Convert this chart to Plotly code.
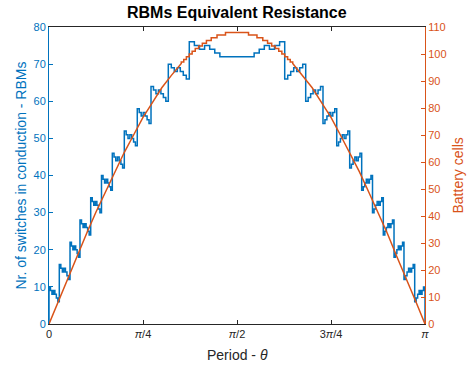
import numpy as np
import plotly.graph_objects as go

# ---------------- data ----------------
# x positions are given as fractions of pi
# Blue: switches in conduction (left half; right half is its mirror image)
blue_seg_start = [0.0, 0.0274, 0.0559, 0.0824, 0.1109, 0.1396, 0.1684,
                  0.2003, 0.2348, 0.2713, 0.3173, 0.3731]
blue_seg_high = [10, 16, 22, 28, 34, 40, 46, 52, 58, 64, 70, 76]
blue_last_end = 0.468          # end of the last descending segment
blue_center_level = 72         # flat level around pi/2
blue_wiggle = [0, 1, 2, 1, 2, 3, 4]   # drop below segment high in each sub-step

# Orange: battery cells (left half; right half mirrored)
orange_slope_theta = [0, 0.025, 0.05, 0.075, 0.10, 0.125, 0.15, 0.175, 0.20,
                      0.225, 0.25, 0.275, 0.30, 0.325, 0.3518]
orange_slope_cells = [0, 8.5, 17, 25, 33.5, 41.5, 49, 56.5, 63.5, 70, 76.5,
                      82, 87.5, 92, 96.5]
orange_step_theta = [0.3518, 0.3584, 0.3654, 0.3730, 0.3807, 0.3890, 0.3980,
                     0.4078, 0.4187, 0.4314, 0.4469, 0.4694]
orange_step_cells = [97, 98, 99, 100, 101, 102, 103, 104, 105, 106, 107, 108]

x_tick_vals = [0, 0.25, 0.5, 0.75, 1.0]
x_tick_text = ["0", "<i>π</i>/4", "<i>π</i>/2", "3<i>π</i>/4", "<i>π</i>"]

BLUE = "#0072BD"
ORANGE = "#D95319"
DARK = "#262626"
FONT = "Liberation Sans, Arial, sans-serif"

# ---------------- build blue staircase ----------------
intervals = []  # (x0, x1, y)
ends = blue_seg_start[1:] + [blue_last_end]
for s, e, h in zip(blue_seg_start, ends, blue_seg_high):
    n = len(blue_wiggle)
    w = (e - s) / n
    for j, d in enumerate(blue_wiggle):
        intervals.append((s + j * w, s + (j + 1) * w, h - d))
intervals.append((blue_last_end, 0.5, blue_center_level))
mirrored = [(1 - b, 1 - a, y) for (a, b, y) in reversed(intervals)]
all_int = intervals + mirrored
bx, by = [0.0], [0.0]
for a, b, y in all_int:
    bx += [a, b]
    by += [y, y]
bx.append(1.0)
by.append(0.0)
bx = np.array(bx) * np.pi

# ---------------- build orange staircase ----------------
ox = list(orange_slope_theta)
oy = list(orange_slope_cells)
st = orange_step_theta + [0.5]
for i, lvl in enumerate(orange_step_cells):
    ox += [st[i], st[i + 1]]
    oy += [lvl, lvl]
ox_full = ox + [1 - v for v in reversed(ox)]
oy_full = oy + list(reversed(oy))
ox_full = np.array(ox_full) * np.pi

fig = go.Figure()
fig.add_trace(go.Scatter(x=bx, y=by, mode="lines",
                         line=dict(color=BLUE, width=1.5), yaxis="y",
                         showlegend=False, hoverinfo="skip"))
fig.add_trace(go.Scatter(x=ox_full, y=oy_full, mode="lines",
                         line=dict(color=ORANGE, width=1.5), yaxis="y2",
                         showlegend=False, hoverinfo="skip"))

L, R, T, B = 49, 425, 27, 324
W, H = 467, 366

def px(xp):
    return (xp - L) / (R - L)

def py(yp):
    return (B - yp) / (B - T)

fig.update_layout(
    width=W, height=H,
    margin=dict(l=L, r=W - R, t=T, b=H - B, pad=0),
    paper_bgcolor="white", plot_bgcolor="white",
    font=dict(family=FONT, size=11, color=DARK),
    xaxis=dict(range=[0, np.pi], tickvals=[v * np.pi for v in x_tick_vals],
               ticktext=x_tick_text, ticks="inside", ticklen=4,
               tickcolor=DARK, showline=True, linecolor=DARK, linewidth=1,
               mirror="ticks", showgrid=False, zeroline=False,
               tickfont=dict(size=11, color=DARK, family=FONT)),
    yaxis=dict(range=[0, 80], dtick=10, ticks="inside", ticklen=4,
               tickcolor=BLUE, showline=True, linecolor=BLUE, linewidth=1,
               showgrid=False, zeroline=False,
               tickfont=dict(size=11, color=BLUE, family=FONT)),
    yaxis2=dict(range=[0, 110], dtick=10, ticks="inside", ticklen=4,
                tickcolor=ORANGE, showline=True, linecolor=ORANGE, linewidth=1,
                showgrid=False, zeroline=False, overlaying="y", side="right",
                tickfont=dict(size=11, color=ORANGE, family=FONT)),
    annotations=[
        dict(text="<b>RBMs Equivalent Resistance</b>", xref="paper", yref="paper",
             x=0.5, y=py(13), xanchor="center", yanchor="middle",
             showarrow=False, font=dict(size=16, color="black", family=FONT)),
        dict(text="Period - <i>θ</i>", xref="paper", yref="paper",
             x=0.5, y=py(355), xanchor="center", yanchor="middle",
             showarrow=False, font=dict(size=14, color=DARK, family=FONT)),
        dict(text="Nr. of switches in conduction - RBMs", xref="paper", yref="paper",
             x=px(20), y=0.5, xanchor="center", yanchor="middle", textangle=-90,
             showarrow=False, font=dict(size=14, color=BLUE, family=FONT)),
        dict(text="Battery cells", xref="paper", yref="paper",
             x=px(457), y=0.5, xanchor="center", yanchor="middle", textangle=-90,
             showarrow=False, font=dict(size=14, color=ORANGE, family=FONT)),
    ],
)

fig.write_html("out.html")
